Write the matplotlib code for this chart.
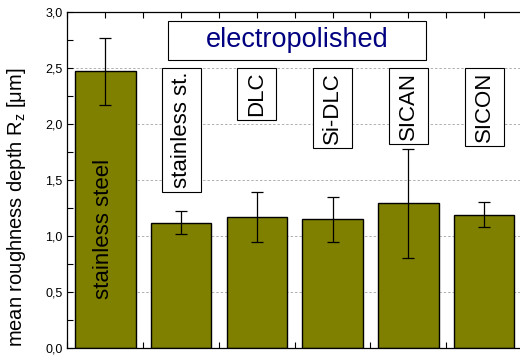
import matplotlib.pyplot as plt
from matplotlib.patches import Rectangle
from matplotlib.ticker import MultipleLocator, FuncFormatter

plt.rcParams['font.family'] = ['Liberation Sans', 'DejaVu Sans']

# mean roughness depth Rz per surface, with standard deviation
samples = ['stainless steel', 'stainless st.', 'DLC', 'Si-DLC', 'SICAN', 'SICON']
rz = [2.47, 1.12, 1.17, 1.15, 1.29, 1.19]
rz_err = [0.30, 0.105, 0.22, 0.20, 0.49, 0.113]

fig = plt.figure(figsize=(5.2, 3.56), dpi=100)
ax = fig.add_axes([0.1298, 0.0225, 0.874, 0.944])

x = list(range(1, len(samples) + 1))
ax.bar(x, rz, width=0.8, color='#808000', edgecolor='black', linewidth=1.0, zorder=2)
ax.errorbar(x, rz, yerr=rz_err, fmt='none', ecolor='black', elinewidth=0.9,
            capsize=4, capthick=0.9, zorder=3)

ax.set_xlim(0.5, 6.5)
ax.set_ylim(0, 3.0)
ax.yaxis.set_major_locator(MultipleLocator(0.5))
ax.yaxis.set_minor_locator(MultipleLocator(0.25))
ax.xaxis.set_major_locator(MultipleLocator(0.5))
ax.yaxis.set_major_formatter(FuncFormatter(lambda v, p: f'{v:.1f}'.replace('.', ',')))
ax.set_xticklabels([])
ax.tick_params(axis='y', which='both', direction='in', labelsize=9, length=4, width=0.8)
ax.tick_params(axis='x', which='both', direction='in', length=4, width=0.8, top=True)
ax.grid(axis='y', which='major', linestyle=(0, (2.5, 2)), color='#b0b0b0', linewidth=0.7, zorder=0)
ax.set_axisbelow(True)
ax.set_ylabel(r'mean roughness depth R$_\mathregular{z}$ [$\mathregular{\mu}$m]', fontsize=14.5)
ax.yaxis.set_label_coords(-0.088, 0.42)

# label inside the first bar
ax.text(x[0] - 0.02, 1.067, samples[0], rotation=90, ha='center', va='center', fontsize=16, zorder=4)

# boxed labels above the coated bars; boxes get more padding across the text than along it
labels = []
for xi, name in zip(x[1:], samples[1:]):
    labels.append(ax.text(xi, 2.465, name, rotation=90, ha='center', va='top',
                          fontsize=16, zorder=5))

fig.canvas.draw()
renderer = fig.canvas.get_renderer()
to_data = ax.transData.inverted()
pad_x, pad_y = 9, 4  # pixels
for t in labels:
    bb = t.get_window_extent(renderer)
    (x0, y0), (x1, y1) = to_data.transform([(bb.x0 - pad_x, bb.y0 - pad_y),
                                            (bb.x1 + pad_x, bb.y1 + pad_y)])
    ax.add_patch(Rectangle((x0, y0), x1 - x0, y1 - y0, facecolor='white',
                           edgecolor='black', linewidth=0.8, zorder=4))

ax.add_patch(Rectangle((1.83, 2.575), 3.4, 0.34, facecolor='white', edgecolor='black',
                       linewidth=0.8, zorder=4))
ax.text(3.53, 2.745, 'electropolished', ha='center', va='center', fontsize=19.5,
        color='#000080', zorder=5)

for side in ['left', 'bottom', 'top', 'right']:
    ax.spines[side].set_linewidth(0.9)

fig.savefig('out.png', dpi=100)
